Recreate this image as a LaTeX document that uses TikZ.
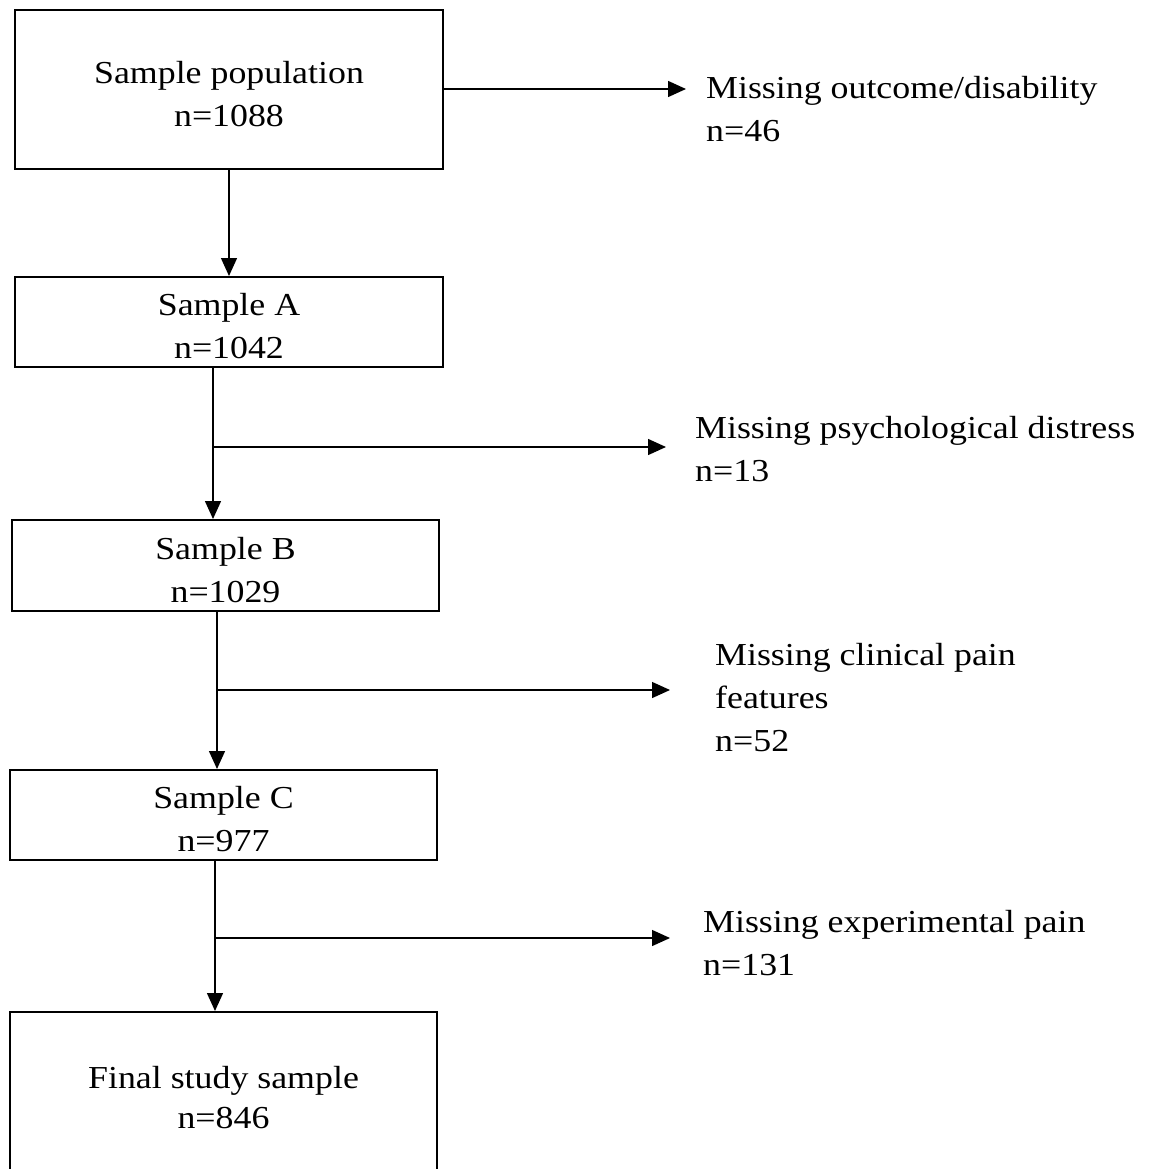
\documentclass[tikz,border=0pt]{standalone}
\usepackage{fontspec}
\setmainfont{Liberation Serif}[FakeStretch=1.12]
\usetikzlibrary{arrows.meta}
\newcommand{\topstrut}{\rule{0pt}{31pt}}
\begin{document}
\begin{tikzpicture}[x=1pt,y=-1pt,
  box/.style={draw, line width=2pt, inner sep=0pt, align=center,
    font=\fontsize{32}{43}\selectfont},
  lbl/.style={anchor=base west, inner sep=0pt, align=left,
    font=\fontsize{32}{43}\selectfont},
  arr/.style={line width=1.4pt, -{Triangle[length=18pt,width=16pt]}}]
\useasboundingbox (0,0) rectangle (1150,1169);
\clip (0,0) rectangle (1150,1169);
% boxes
\node[box, minimum width=428pt, minimum height=159pt] (b1) at (229,89.5) {\topstrut Sample population\\n=1088};
\node[box, minimum width=428pt, minimum height=90pt] (b2) at (229,322) {\topstrut Sample A\\n=1042};
\node[box, minimum width=427pt, minimum height=91pt] (b3) at (225.5,565.5) {\topstrut Sample B\\n=1029};
\node[box, minimum width=427pt, minimum height=90pt] (b4) at (223.5,815) {\topstrut Sample C\\n=977};
\node[box, minimum width=427pt, minimum height=171pt] (b5) at (223.5,1097.5) {Final study sample\\[-3pt]n=846};
% labels (anchored at the baseline of the last line)
\node[lbl] (l1) at (706,142) {Missing outcome/disability\\n=46};
\node[lbl] (l2) at (695,481) {Missing psychological distress\\n=13};
\node[lbl] (l3) at (715,751) {Missing clinical pain\\features\\n=52};
\node[lbl] (l4) at (703,975) {Missing experimental pain\\n=131};
% connector coordinates
\coordinate (t1) at (686,89);
\coordinate (c2) at (213,447);
\coordinate (t2) at (666,447);
\coordinate (c3) at (217,690);
\coordinate (t3) at (670,690);
\coordinate (c4) at (215,938);
\coordinate (t4) at (670,938);
% connectors
\draw[arr] (b1.south) -- (b2.north);
\draw[arr] (b1.east |- t1) -- (t1);
\draw[arr] (b2.south -| c2) -- (b3.north -| c2);
\draw[arr] (c2) -- (t2);
\draw[arr] (b3.south -| c3) -- (b4.north -| c3);
\draw[arr] (c3) -- (t3);
\draw[arr] (b4.south -| c4) -- (b5.north -| c4);
\draw[arr] (c4) -- (t4);
\end{tikzpicture}
\end{document}
